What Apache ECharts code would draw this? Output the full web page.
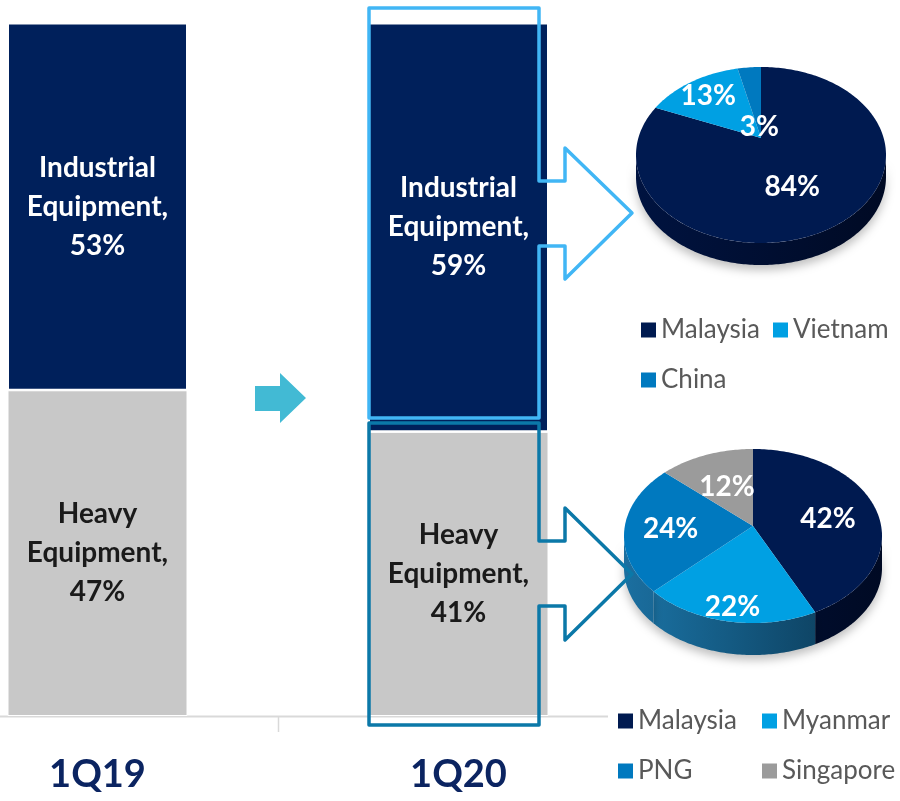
<!DOCTYPE html>
<html>
<head>
<meta charset="utf-8">
<script src="https://cdn.jsdelivr.net/npm/echarts@6/dist/echarts.min.js"></script>
<style>
  html, body { margin: 0; padding: 0; background: #fff; }
  #main { width: 900px; height: 801px; }
</style>
</head>
<body>
<div id="main"></div>
<script>
// bar chart data (share of revenue, %)
const categories = ['1Q19', '1Q20'];
const industrialShare = [53, 59];
const heavyShare = [47, 41];

// pie breakdowns for 1Q20
const industrialNames = ['Malaysia', 'Vietnam', 'China'];
const industrialValues = [84, 13, 3];
const heavyNames = ['Malaysia', 'Myanmar', 'PNG', 'Singapore'];
const heavyValues = [42, 22, 24, 12];

const FONT = 'Lato, "Noto Sans", sans-serif';
const countryColor = {
  Malaysia: '#001A50',
  Vietnam: '#00A0E3',
  Myanmar: '#00A0E3',
  China: '#0079BF',
  PNG: '#0079BF',
  Singapore: '#9B9B9B'
};
const sideColor = {
  Malaysia: ['#001340', '#000A24'],
  Vietnam: ['#1B74A6', '#0A3550'],
  Myanmar: ['#1B74A6', '#0A3550'],
  China: ['#1B6FA0', '#0A3550'],
  PNG: ['#1B6FA0', '#0A3550'],
  Singapore: ['#777', '#555']
};

// geometry of the two tilted pies
const topPie = { cx: 761, cy: 155, rx: 125, ry: 88, ax: 761, ay: 138, depth: 22,
  labelFrac: [0.52, 0.75, 0.15] };
const bottomPie = { cx: 753, cy: 536, rx: 129, ry: 87, ax: 753, ay: 526, depth: 32,
  labelFrac: [0.6, 0.85, 0.64, 0.55] };

function arc(g, a0, a1, dy) {
  const pts = [];
  const n = Math.max(2, Math.ceil((a1 - a0) / (Math.PI / 180)));
  for (let i = 0; i <= n; i++) {
    const t = a0 + (a1 - a0) * i / n;
    pts.push([g.cx + g.rx * Math.sin(t), g.cy - g.ry * Math.cos(t) + dy]);
  }
  return pts;
}

function pieSeries(names, values, g) {
  const total = values.reduce((s, v) => s + v, 0);
  let acc = 0;
  return names.map((name, i) => {
    const a0 = acc / total * Math.PI * 2;
    acc += values[i];
    const a1 = acc / total * Math.PI * 2;
    const frac = g.labelFrac[i];
    return {
      type: 'custom',
      name: name,
      coordinateSystem: 'none',
      itemStyle: { color: countryColor[name] },
      data: [values[i]],
      silent: true,
      renderItem: function (params, api) {
        const children = [];
        // visible side wall: lower half of the ellipse
        const s0 = Math.max(a0, Math.PI / 2);
        const s1 = Math.min(a1, Math.PI * 1.5);
        if (s1 > s0) {
          const top = arc(g, s0, s1, 0);
          const bot = arc(g, s0, s1, g.depth).reverse();
          children.push({
            type: 'polygon',
            z2: 1,
            shape: { points: top.concat(bot) },
            style: {
              fill: new echarts.graphic.LinearGradient(g.cx - g.rx, 0, g.cx + g.rx, 0, [
                { offset: 0, color: sideColor[name][0] },
                { offset: 1, color: sideColor[name][1] }
              ], true),
              shadowBlur: 10,
              shadowOffsetY: 5,
              shadowColor: 'rgba(0,0,0,0.25)'
            }
          });
        }
        // top face
        children.push({
          type: 'polygon',
          z2: 5,
          shape: { points: [[g.ax, g.ay]].concat(arc(g, a0, a1, 0)) },
          style: { fill: countryColor[name] }
        });
        const mid = (a0 + a1) / 2;
        const ex = g.cx + g.rx * Math.sin(mid);
        const ey = g.cy - g.ry * Math.cos(mid);
        children.push({
          type: 'text',
          z2: 50,
          style: {
            text: values[i] + '%',
            x: g.ax + (ex - g.ax) * frac,
            y: g.ay + (ey - g.ay) * frac,
            fill: '#fff',
            fontSize: 28,
            fontWeight: 'bold',
            fontFamily: FONT,
            align: 'center',
            verticalAlign: 'middle'
          }
        });
        return { type: 'group', children: children };
      }
    };
  });
}

const chart = echarts.init(document.getElementById('main'), null, { renderer: 'canvas' });

const barLabel = (color) => ({
  show: true,
  position: 'inside',
  color: color,
  fontSize: 28,
  fontWeight: 'bold',
  fontFamily: FONT,
  lineHeight: 39,
  formatter: p => p.seriesName.replace(' ', '\n') + ',\n' + p.value + '%'
});

const legendBase = {
  icon: 'rect',
  itemWidth: 15,
  itemHeight: 15,
  itemGap: 13,
  selectedMode: false,
  textStyle: { color: '#595959', fontSize: 26, fontFamily: FONT }
};

const option = {
  animation: false,
  grid: { left: -83, width: 722, top: 23, bottom: 85, outerBoundsMode: 'none' },
  xAxis: {
    type: 'category',
    data: categories,
    axisLine: { show: false },
    axisTick: { show: false },
    axisLabel: {
      margin: 40,
      fontSize: 38,
      fontWeight: 'bold',
      fontFamily: FONT,
      color: '#0B2461'
    }
  },
  yAxis: { type: 'value', min: 0, max: 100, show: false },
  legend: [
    Object.assign({}, legendBase, { orient: 'horizontal', left: 636, top: 312, data: ['Malaysia', 'Vietnam'] }),
    Object.assign({}, legendBase, { orient: 'horizontal', left: 636, top: 362, data: ['China'] }),
    Object.assign({}, legendBase, { orient: 'vertical', left: 613, top: 703, itemGap: 24, data: ['Malaysia', 'PNG'] }),
    Object.assign({}, legendBase, { orient: 'vertical', left: 757, top: 703, itemGap: 24, data: ['Myanmar', 'Singapore'] })
  ],
  graphic: [
    // axis line and middle tick
    { type: 'line', z: 1, shape: { x1: 0, y1: 716.5, x2: 608, y2: 716.5 },
      style: { stroke: '#D9D9D9', lineWidth: 2 } },
    { type: 'line', z: 1, shape: { x1: 278.5, y1: 716, x2: 278.5, y2: 732 },
      style: { stroke: '#D9D9D9', lineWidth: 1.5 } },
    // solid arrow between bars
    { type: 'polygon', z: 10,
      shape: { points: [[255, 386], [280, 386], [280, 373], [306, 398], [280, 423], [280, 411], [255, 411]] },
      style: { fill: '#42BAD4' } },
    // callout around industrial equipment
    { type: 'polygon', z: 100,
      shape: { points: [[369, 8], [539, 8], [539, 181], [565, 181], [565, 148], [632, 213], [565, 279],
        [565, 246], [539, 246], [539, 418], [369, 418]] },
      style: { fill: 'none', stroke: '#41B6F5', lineWidth: 3.5, lineJoin: 'round' } },
    // callout around heavy equipment
    { type: 'polygon', z: 100,
      shape: { points: [[369, 423], [539, 423], [539, 541], [565, 541], [565, 508], [632, 574], [565, 640],
        [565, 606], [539, 606], [539, 725], [369, 725]] },
      style: { fill: 'none', stroke: '#0B78A8', lineWidth: 3.5, lineJoin: 'round' } }
  ],
  series: [
    {
      name: 'Heavy Equipment',
      type: 'bar',
      stack: 'share',
      barWidth: 180,
      data: heavyShare,
      itemStyle: { color: '#C8C8C8', borderColor: '#fff', borderWidth: 1 },
      label: barLabel('#1A1A1A')
    },
    {
      name: 'Industrial Equipment',
      type: 'bar',
      stack: 'share',
      barWidth: 180,
      data: industrialShare,
      itemStyle: { color: '#00205B', borderColor: '#fff', borderWidth: 1.5 },
      label: barLabel('#FFFFFF')
    }
  ]
    .concat(pieSeries(industrialNames, industrialValues, topPie))
    .concat(pieSeries(heavyNames, heavyValues, bottomPie))
};

chart.setOption(option);
</script>
</body>
</html>
